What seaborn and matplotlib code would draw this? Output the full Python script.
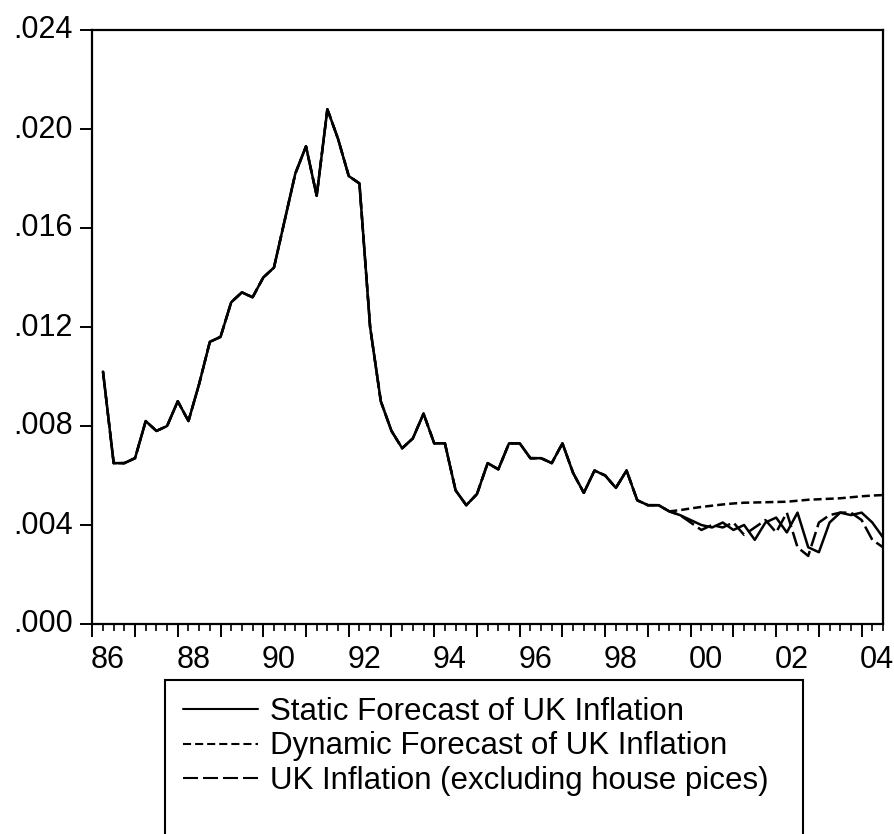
import numpy as np
import pandas as pd
import matplotlib
matplotlib.use("Agg")
import matplotlib.pyplot as plt
import matplotlib.transforms as mtransforms
from matplotlib.patches import Rectangle
import seaborn as sns

# ---------------- data (quarterly, first observation 1986Q2 position) ----------------
start_year = 1986.25
common = [0.0102, 0.0065, 0.0065, 0.0067, 0.0082, 0.0078, 0.0080, 0.0090, 0.0082, 0.0097,
          0.0114, 0.0116, 0.0130, 0.0134, 0.0132, 0.0140, 0.0144, 0.0163, 0.0182, 0.0193,
          0.0173, 0.0208, 0.0196, 0.0181, 0.0178, 0.0120, 0.0090, 0.0078, 0.0071, 0.0075,
          0.0085, 0.0073, 0.0073, 0.0054, 0.0048, 0.00525, 0.0065, 0.00625, 0.0073, 0.0073,
          0.0067, 0.0067, 0.0065, 0.0073, 0.0061, 0.0053, 0.0062, 0.0060, 0.0055, 0.0062,
          0.0050, 0.0048, 0.0048, 0.00455]
static_tail = [0.0044, 0.0042, 0.0040, 0.0039, 0.0041, 0.0038, 0.0040, 0.0034, 0.0041,
               0.0043, 0.0037, 0.0045, 0.0031, 0.0029, 0.0041, 0.0045, 0.0044, 0.0045,
               0.0041, 0.0035]
dynamic_tail = [0.0046, 0.00467, 0.00473, 0.00478, 0.00483, 0.00487, 0.0049, 0.00491,
                0.00492, 0.00493, 0.00494, 0.00498, 0.00502, 0.00504, 0.00506, 0.00508,
                0.00512, 0.00516, 0.00519, 0.00521]
actual_tail = [0.0044, 0.0041, 0.0038, 0.0040, 0.0039, 0.0041, 0.0036, 0.0039, 0.0042,
               0.0037, 0.0045, 0.0031, 0.00275, 0.0041, 0.0044, 0.0045, 0.0045, 0.0042,
               0.0034, 0.0031]

static_fc = common + static_tail
dynamic_fc = common + dynamic_tail
uk_infl = common + actual_tail

series_names = ["Static Forecast of UK Inflation",
                "Dynamic Forecast of UK Inflation",
                "UK Inflation (excluding house pices)"]

ytick_values = [0.000, 0.004, 0.008, 0.012, 0.016, 0.020, 0.024]
ytick_labels = [".000", ".004", ".008", ".012", ".016", ".020", ".024"]
xtick_years = list(range(1986, 2005, 2))
xtick_labels = ["86", "88", "90", "92", "94", "96", "98", "00", "02", "04"]

n = len(uk_infl)
t = start_year + np.arange(n) / 4.0
df = pd.DataFrame({"t": t, "static": static_fc, "dynamic": dynamic_fc, "actual": uk_infl})

# ---------------- style ----------------
sns.set_theme(style="white")
plt.rcParams["font.family"] = ["Liberation Sans", "DejaVu Sans"]
plt.rcParams["lines.scale_dashes"] = False

W, H = 894, 834
fig = plt.figure(figsize=(W / 100, H / 100), dpi=100)
ax = fig.add_axes([92.3 / W, 1 - 624 / H, (883 - 92.3) / W, (624 - 30) / H])

lw = 1.8
styles = {
    "static": "-",
    "dynamic": (0, (5.8, 2.9)),
    "actual": (0, (10.8, 3.6)),
}
handles = []
for key, name in zip(["static", "dynamic", "actual"], series_names):
    sns.lineplot(data=df, x="t", y=key, ax=ax, color="black", linewidth=lw,
                 linestyle=styles[key], estimator=None, sort=False)
    handles.append(ax.lines[-1])

if ax.get_legend() is not None:
    ax.get_legend().remove()

ax.set_xlim(1986.0, 2004.5)
ax.set_ylim(0.0, 0.024)
ax.set_xlabel("")
ax.set_ylabel("")

# y axis
ax.set_yticks(ytick_values)
ax.set_yticklabels(ytick_labels)
# x axis: yearly major ticks, quarterly minor ticks
years = np.arange(1986, 2005)
ax.set_xticks(years)
ax.set_xticklabels([xtick_labels[xtick_years.index(y)] if y in xtick_years else "" for y in years])
ax.set_xticks(np.arange(1986, 2004.5 + 1e-9, 0.25), minor=True)

for s in ax.spines.values():
    s.set_visible(True)
    s.set_color("black")
    s.set_linewidth(1.6)

ax.tick_params(axis="y", which="major", direction="out", length=8.6, width=1.4,
               pad=5.5, labelsize=22, colors="black", left=True, right=False)
ax.tick_params(axis="y", which="minor", left=False, right=False)
ax.tick_params(axis="x", which="major", direction="out", length=9.4, width=1.4,
               pad=6.0, labelsize=22, colors="black", bottom=True, top=False)
ax.tick_params(axis="x", which="minor", direction="out", length=5.0, width=1.4,
               bottom=True, top=False)

# shift year labels a bit to the right, as in the original
offset = mtransforms.ScaledTranslation(15.5 / 100, 0, fig.dpi_scale_trans)
for lab in ax.get_xticklabels():
    lab.set_transform(lab.get_transform() + offset)
yoff = mtransforms.ScaledTranslation(0, 3 / 100, fig.dpi_scale_trans)
for lab in ax.get_yticklabels():
    lab.set_transform(lab.get_transform() + yoff)

ax.grid(False)
ax.set_facecolor("white")

# legend box (bottom edge runs off the figure, as in the original)
box = Rectangle((165 / W, 1 - 860 / H), (803 - 165) / W, (860 - 680) / H,
                transform=fig.transFigure, fill=False, edgecolor="black",
                linewidth=1.5, zorder=1)
fig.patches.append(box)

leg = fig.legend(handles, series_names, loc="upper left",
                 bbox_to_anchor=(174 / W, 1 - 688 / H), bbox_transform=fig.transFigure,
                 frameon=False, fontsize=22.5, handlelength=2.4, handletextpad=0.38,
                 labelspacing=0.13, borderpad=0.3, borderaxespad=0.0)
for txt in leg.get_texts():
    txt.set_color("black")
for h in leg.legend_handles:
    h.set_linewidth(1.5)

fig.savefig("out.png", dpi=100, facecolor="white")
